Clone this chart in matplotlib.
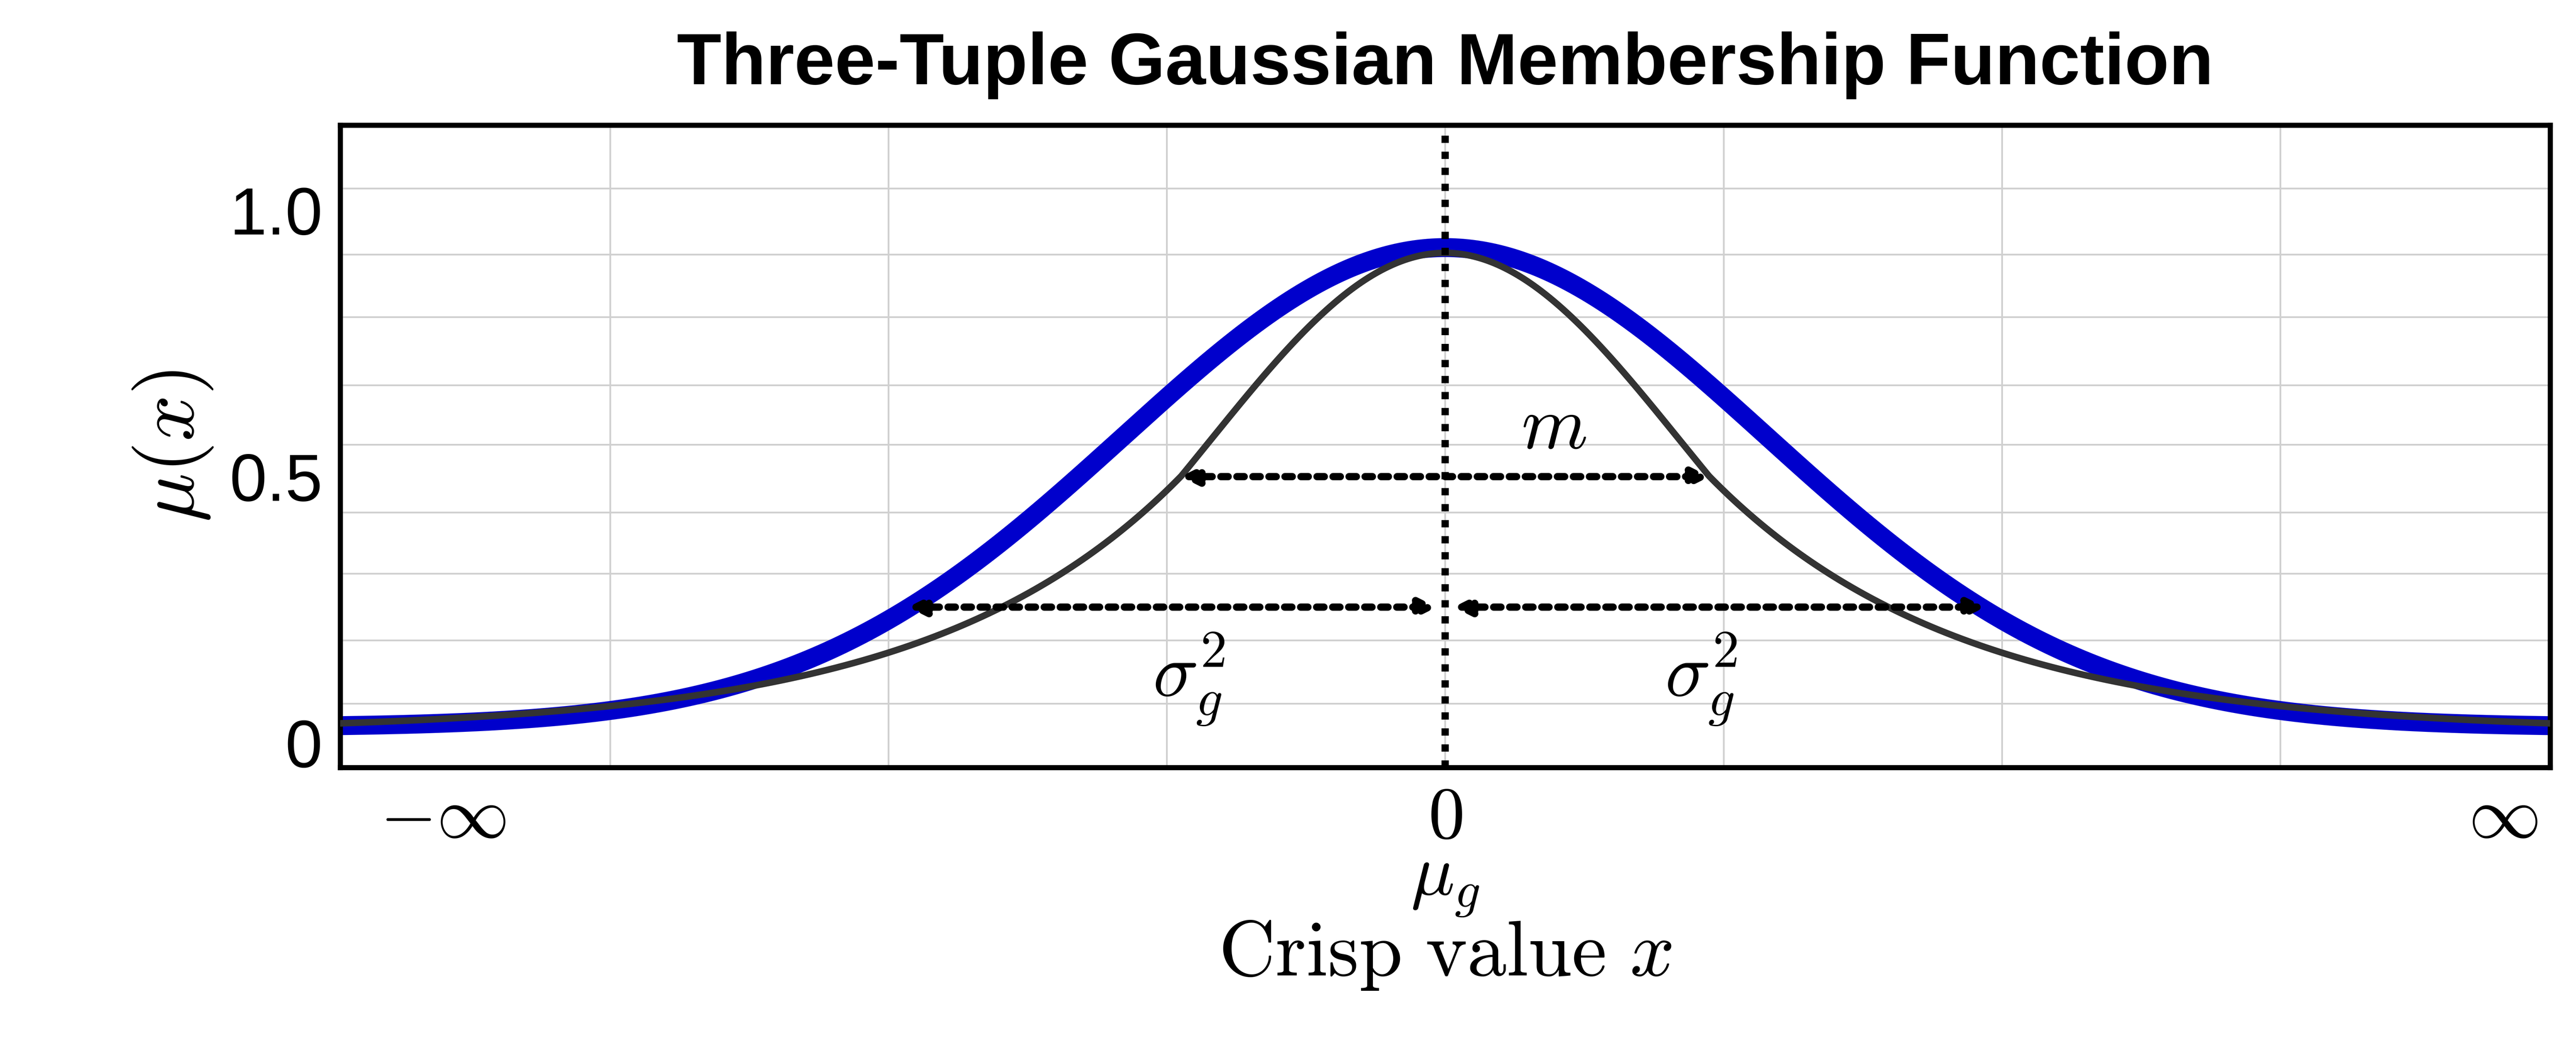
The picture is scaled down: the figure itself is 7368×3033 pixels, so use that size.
import numpy as np
import matplotlib
matplotlib.use("Agg")
import matplotlib.pyplot as plt

plt.rcParams['mathtext.fontset'] = 'cm'
plt.rcParams['font.family'] = ['Liberation Sans', 'DejaVu Sans']

# Parameters
blue_peak, blue_base, blue_sigma = 0.93, 0.03, 1.155
black_peak, black_base, black_sigma_in = 0.92, 0.02, 0.847
black_knee_x, black_knee_y, black_decay = 0.95, 0.5, 0.9
sigma_arrow_y, sigma_left, sigma_right = 0.255, -1.93, 1.94
m_arrow_y = 0.5
ytick_pos = [0, 0.5, 1.0]
ytick_labels = ['0', '0.5', '1.0']
ygrid = [0.074, 0.193, 0.318, 0.433, 0.560, 0.672, 0.800, 0.917, 1.041]
xgrid = [-3, -2, -1, 0, 1, 2, 3]

x = np.linspace(-3.97, 3.97, 2000)
blue = blue_base + (blue_peak - blue_base) * np.exp(-x**2 / (2 * blue_sigma**2))
inner = black_base + (black_peak - black_base) * np.exp(-x**2 / (2 * black_sigma_in**2))
d = np.abs(x) - black_knee_x
outer = black_base + (black_knee_y - black_base) * np.exp(-np.clip(d, 0, None) / black_decay)
black = np.where(np.abs(x) <= black_knee_x, inner, outer)

fig = plt.figure(figsize=(24.56, 10.11), dpi=300)
ax = fig.add_axes([0.132, 0.276, 0.858, 0.606])
for g in ygrid:
    ax.axhline(g, color='#d0d0d0', lw=1.2, zorder=0)
for g in xgrid:
    ax.axvline(g, color='#d0d0d0', lw=1.2, zorder=0)

ax.plot(x, blue, color='#0000cc', lw=13, solid_capstyle='butt', zorder=2)
ax.plot(x, black, color='#333333', lw=4.5, zorder=3)
ax.axvline(0, color='black', lw=5, ls=(0, (1, 1.2)), zorder=4)

def darrow(x0, x1, y):
    ax.annotate('', xy=(x1, y), xytext=(x0, y),
                arrowprops=dict(arrowstyle='<|-|>,head_length=0.9,head_width=0.45',
                                color='black', lw=5, ls=(0, (1, 1.2)),
                                shrinkA=0, shrinkB=0), zorder=5)

darrow(-black_knee_x, black_knee_x, m_arrow_y)
darrow(sigma_left, -0.03, sigma_arrow_y)
darrow(0.03, sigma_right, sigma_arrow_y)

ax.text(0.39, 0.59, r'$m$', fontsize=52, ha='center', va='center')
ax.text(-0.92, 0.12, r'$\sigma_g^2$', fontsize=52, ha='center', va='center')
ax.text(0.92, 0.12, r'$\sigma_g^2$', fontsize=52, ha='center', va='center')

ax.set_xlim(-3.97, 3.97)
ax.set_ylim(-0.046, 1.16)
ax.set_yticks(ytick_pos)
ax.set_yticklabels(ytick_labels, fontsize=46)
ax.set_xticks([-3.6, 0, 3.8])
ax.set_xticklabels([r'$-\infty$', '$0$\n$\\mu_g$', r'$\infty$'], fontsize=50, linespacing=0.8)
ax.tick_params(length=0, pad=12)
for s in ax.spines.values():
    s.set_linewidth(3.5)
ax.set_xlabel(r'$\mathrm{Crisp\ value}\ x$', fontsize=54, labelpad=0)
ax.set_ylabel(r'$\mu(x)$', fontsize=56, labelpad=10)
ax.set_title('Three-Tuple Gaussian Membership Function', fontsize=50, fontweight='bold', pad=28)

fig.savefig('out.png', dpi=300)
